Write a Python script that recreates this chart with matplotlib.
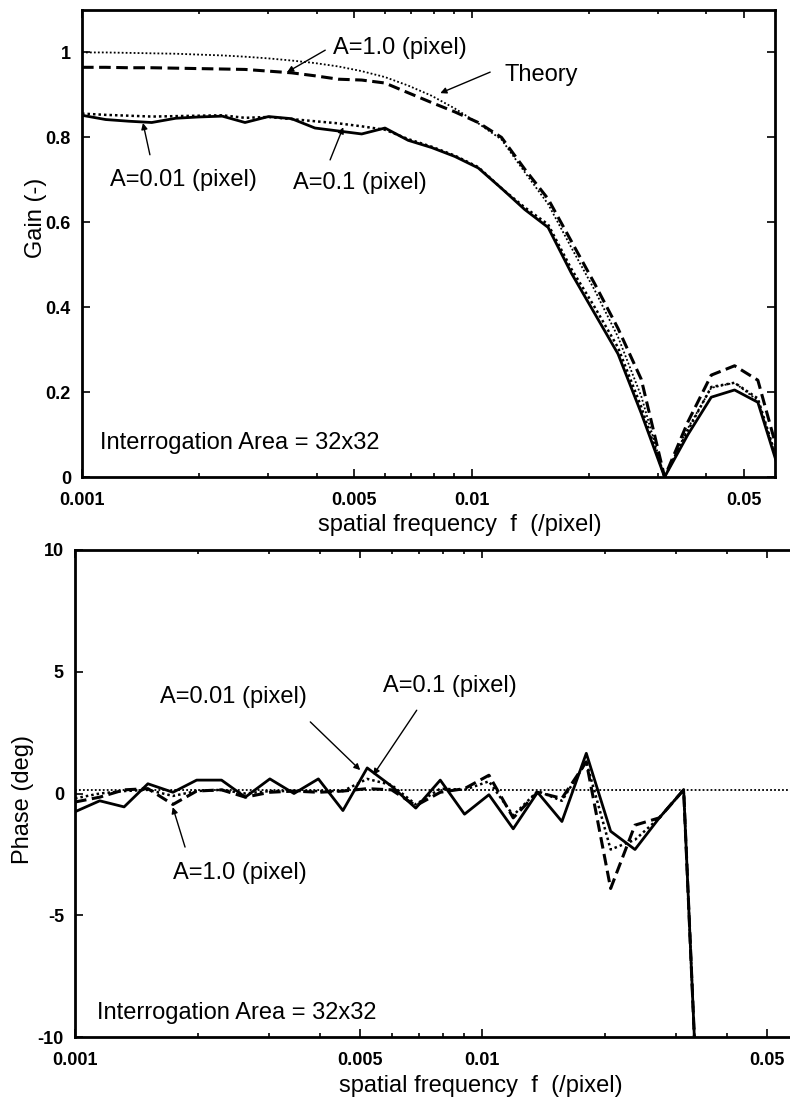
import numpy as np
import matplotlib
matplotlib.use('Agg')
import matplotlib.pyplot as plt
from matplotlib.ticker import FixedLocator, NullFormatter, FixedFormatter

plt.rcParams['font.family'] = ['Liberation Sans', 'DejaVu Sans']

# spatial frequency (/pixel) of the measured points
freq = [0.00100, 0.00115, 0.00132, 0.00151, 0.00174, 0.00199, 0.00229, 0.00262,
        0.00301, 0.00345, 0.00396, 0.00455, 0.00522, 0.00599, 0.00687, 0.00789,
        0.00905, 0.01039, 0.01192, 0.01368, 0.01570, 0.01802, 0.02068, 0.02373,
        0.02723, 0.03125, 0.03587, 0.04117, 0.04725, 0.05422, 0.06220]

# gain
gain_theory = [1.00, 1.00, 0.999, 0.998, 0.997, 0.995, 0.993, 0.99, 0.986, 0.981,
               0.975, 0.967, 0.956, 0.942, 0.922, 0.898, 0.868, 0.833, 0.795, 0.718,
               0.643, 0.54, 0.44, 0.33, 0.19, 0.0, 0.115, 0.21, 0.222, 0.18, 0.01]
gain_a10 = [0.965, 0.965, 0.964, 0.964, 0.963, 0.962, 0.961, 0.960, 0.956, 0.952,
            0.945, 0.937, 0.935, 0.928, 0.905, 0.882, 0.86, 0.835, 0.80, 0.725,
            0.655, 0.555, 0.455, 0.35, 0.23, 0.0, 0.13, 0.24, 0.262, 0.228, 0.03]
gain_a01 = [0.856, 0.853, 0.851, 0.849, 0.850, 0.851, 0.852, 0.846, 0.848, 0.843,
            0.838, 0.833, 0.826, 0.818, 0.796, 0.778, 0.757, 0.730, 0.68, 0.635,
            0.595, 0.49, 0.40, 0.305, 0.165, 0.0, 0.11, 0.212, 0.222, 0.185, 0.01]
gain_a001 = [0.852, 0.842, 0.838, 0.835, 0.845, 0.848, 0.850, 0.835, 0.849, 0.844,
             0.822, 0.815, 0.808, 0.822, 0.793, 0.776, 0.755, 0.728, 0.68, 0.63,
             0.588, 0.48, 0.385, 0.29, 0.15, 0.0, 0.10, 0.188, 0.205, 0.176, 0.0]

# phase (deg), first 27 frequencies
phase_a001 = [-0.75, -0.3, -0.55, 0.4, 0.05, 0.55, 0.55, -0.15, 0.6, 0.0, 0.6, -0.7,
              1.05, 0.3, -0.6, 0.55, -0.85, -0.05, -1.45, 0.05, -1.15, 1.65, -1.55,
              -2.3, -1.0, 0.15, -23.0]
phase_a01 = [-0.2, 0.0, 0.1, 0.15, -0.1, 0.1, 0.15, 0.0, 0.1, 0.1, 0.1, 0.1, 0.6,
             0.35, -0.45, 0.2, 0.15, 0.5, -0.9, 0.1, -0.3, 1.3, -2.3, -1.9, -1.0,
             0.15, -23.0]
phase_a10 = [-0.35, -0.15, 0.15, 0.2, -0.45, 0.1, 0.15, -0.15, 0.05, 0.1, 0.05, 0.1,
             0.2, 0.15, -0.5, 0.05, 0.2, 0.75, -1.0, 0.05, -0.2, 1.3, -3.9, -1.3,
             -1.0, 0.15, -23.0]
phase_theory = 0.15

xticks = [0.001, 0.005, 0.01, 0.05]
xticklabels = ['0.001', '0.005', '0.01', '0.05']
xminor = [0.002, 0.003, 0.004, 0.006, 0.007, 0.008, 0.009, 0.02, 0.03, 0.04]

fig = plt.figure(figsize=(7.9, 11.04), dpi=100)
ax1 = fig.add_axes([82/790, 627/1104, 693/790, 467/1104])
ax2 = fig.add_axes([75/790, 67/1104, 724/790, 487/1104])

solid = dict(color='black', lw=2.0, ls='-')
dashed = dict(color='black', lw=2.2, ls=(0, (3.8, 1.8)))
dotted = dict(color='black', lw=1.8, ls=(0, (1, 1.2)))
thin_dot = dict(color='black', lw=1.3, ls=(0, (1, 1.2)))

n = len(phase_a001)

# top: gain
ax1.plot(freq, gain_theory, **thin_dot)
ax1.plot(freq, gain_a10, **dashed)
ax1.plot(freq, gain_a01, **dotted)
ax1.plot(freq, gain_a001, **solid)
ax1.set_ylim(0, 1.1)
ax1.set_yticks([0, 0.2, 0.4, 0.6, 0.8, 1.0])
ax1.set_yticklabels(['0', '0.2', '0.4', '0.6', '0.8', '1'])

# bottom: phase
ax2.axhline(phase_theory, **thin_dot)
ax2.plot(freq[:n], phase_a10, **dashed)
ax2.plot(freq[:n], phase_a01, **dotted)
ax2.plot(freq[:n], phase_a001, **solid)
ax2.set_ylim(-10, 10)
ax2.set_yticks([-10, -5, 0, 5, 10])
ax2.set_yticklabels(['-10', '-5', '0', '5', '10'])

for ax in (ax1, ax2):
    ax.set_xscale('log')
    ax.set_xlim(0.001, 0.06)
    ax.xaxis.set_major_locator(FixedLocator(xticks))
    ax.xaxis.set_major_formatter(FixedFormatter(xticklabels))
    ax.xaxis.set_minor_locator(FixedLocator(xminor))
    ax.xaxis.set_minor_formatter(NullFormatter())
    ax.tick_params(which='both', direction='in', top=True, right=True, width=1.2)
    ax.tick_params(which='major', length=6)
    ax.tick_params(which='minor', length=3)
    ax.tick_params(axis='x', pad=11)
    ax.tick_params(axis='y', pad=8)
    for lab in ax.get_xticklabels() + ax.get_yticklabels():
        lab.set_fontsize(13)
        lab.set_fontweight('bold')
    for sp in ax.spines.values():
        sp.set_linewidth(2)
    ax.set_xlabel('spatial frequency  f  (/pixel)', fontsize=17)

ax1.xaxis.set_label_coords(0.545, -0.080)
ax2.xaxis.set_label_coords(0.56, -0.078)

ax1.set_ylabel('Gain (-)', fontsize=17)
ax1.yaxis.set_label_coords(-0.050, 0.555)
ax2.set_ylabel('Phase (deg)', fontsize=17)
ax2.yaxis.set_label_coords(-0.057, 0.487)

arrow = dict(arrowstyle='-|>', color='black', lw=1.0, mutation_scale=9,
             shrinkA=0, shrinkB=0)
tfs = 17

# annotations, top
ax1.text(0.362, 0.919, 'A=1.0 (pixel)', transform=ax1.transAxes, fontsize=tfs, va='center')
ax1.annotate('', xy=(0.296, 0.867), xytext=(0.351, 0.914), xycoords='axes fraction', arrowprops=arrow)
ax1.text(0.610, 0.861, 'Theory', transform=ax1.transAxes, fontsize=tfs, va='center')
ax1.annotate('', xy=(0.517, 0.822), xytext=(0.589, 0.867), xycoords='axes fraction', arrowprops=arrow)
ax1.text(0.040, 0.636, 'A=0.01 (pixel)', transform=ax1.transAxes, fontsize=tfs, va='center')
ax1.annotate('', xy=(0.088, 0.758), xytext=(0.098, 0.690), xycoords='axes fraction', arrowprops=arrow)
ax1.text(0.304, 0.630, 'A=0.1 (pixel)', transform=ax1.transAxes, fontsize=tfs, va='center')
ax1.annotate('', xy=(0.377, 0.749), xytext=(0.358, 0.679), xycoords='axes fraction', arrowprops=arrow)
ax1.text(0.026, 0.073, 'Interrogation Area = 32x32', transform=ax1.transAxes, fontsize=tfs, va='center')

# annotations, bottom
ax2.text(0.117, 0.698, 'A=0.01 (pixel)', transform=ax2.transAxes, fontsize=tfs, va='center')
ax2.annotate('', xy=(0.394, 0.548), xytext=(0.325, 0.647), xycoords='axes fraction', arrowprops=arrow)
ax2.text(0.425, 0.721, 'A=0.1 (pixel)', transform=ax2.transAxes, fontsize=tfs, va='center')
ax2.annotate('', xy=(0.412, 0.538), xytext=(0.472, 0.671), xycoords='axes fraction', arrowprops=arrow)
ax2.text(0.135, 0.337, 'A=1.0 (pixel)', transform=ax2.transAxes, fontsize=tfs, va='center')
ax2.annotate('', xy=(0.135, 0.472), xytext=(0.152, 0.390), xycoords='axes fraction', arrowprops=arrow)
ax2.text(0.030, 0.049, 'Interrogation Area = 32x32', transform=ax2.transAxes, fontsize=tfs, va='center')

fig.savefig('out.png', dpi=100)
